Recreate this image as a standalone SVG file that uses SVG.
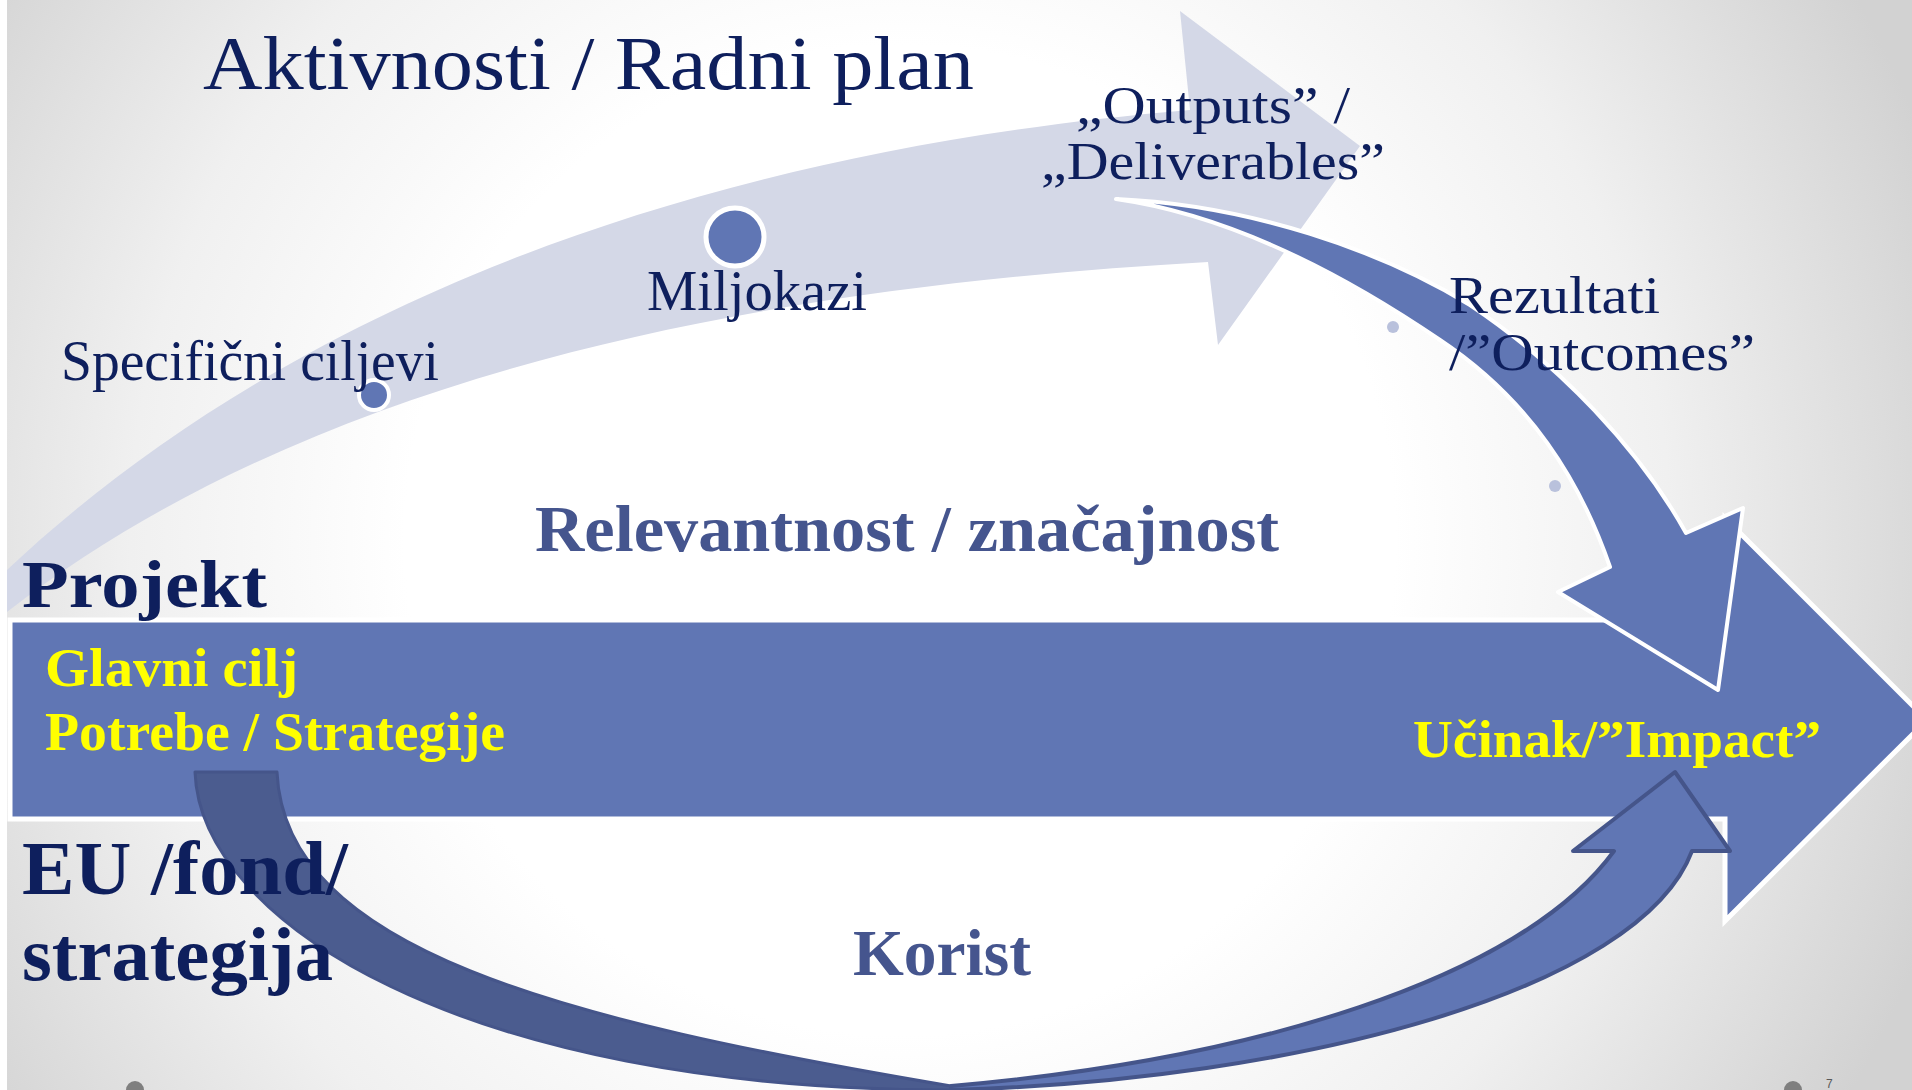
<svg xmlns="http://www.w3.org/2000/svg" width="1912" height="1090" viewBox="0 0 1912 1090">
<defs>
<radialGradient id="bg" gradientUnits="userSpaceOnUse" cx="900" cy="540" r="1100">
<stop offset="0" stop-color="#ffffff"/>
<stop offset="0.45" stop-color="#ffffff"/>
<stop offset="0.7" stop-color="#f0f0f0"/>
<stop offset="1" stop-color="#d2d2d2"/>
</radialGradient>
<style>
.t{font-family:"Liberation Serif","Times New Roman",serif;}
.navy{fill:#0e1f5d;}
.slate{fill:#45558e;font-weight:bold;}
.yel{fill:#ffff00;font-weight:bold;}
.b{font-weight:bold;}
.blue{fill:#6076b4;}
</style>
</defs>
<rect x="0" y="0" width="1912" height="1090" fill="url(#bg)"/>
<rect x="0" y="0" width="7" height="1090" fill="#ffffff"/>

<g id="connectors">
<path id="light-arrow" d="M7,570 C230,360 600,160 1190,110 L1180,11 L1360,146 L1218,345 L1208,262 C800,285 330,360 7,612 Z" fill="#d4d8e7"/>
<path id="main-arrow" d="M10,620 L1725,620 L1725,518 L1927,720 L1725,921 L1725,819 L10,819 Z" class="blue" stroke="#ffffff" stroke-width="5" stroke-linejoin="miter"/>
<path id="down-arrow" d="M1116,199 C1250,205 1380,250 1470,305 C1560,365 1640,450 1686,533 L1743,508 L1718,690 L1558,592 L1610,567 C1580,480 1530,400 1440,340 C1340,272 1230,215 1116,199 Z" class="blue" stroke="#ffffff" stroke-width="4" stroke-linejoin="round"/>
<path id="u-back" d="M195,772 L277,772 C285,950 560,1020 951,1086 L951,1090 C460,1090 200,920 195,772 Z" fill="#4b5c8f" stroke="#45558a" stroke-width="3" stroke-linejoin="round"/>
<path id="u-front" d="M951,1086 C1250,1060 1520,980 1614,851 L1573,851 L1675,772 L1730,851 L1692,851 C1640,990 1300,1080 951,1090 Z" class="blue" stroke="#45558a" stroke-width="4" stroke-linejoin="round"/>
</g>

<g id="dots">
<circle cx="374" cy="395" r="15" class="blue" stroke="#ffffff" stroke-width="4"/>
<circle cx="735" cy="237" r="29" class="blue" stroke="#ffffff" stroke-width="5"/>
<circle cx="1393" cy="327" r="6" fill="#b9c1dc"/>
<circle cx="1555" cy="486" r="6" fill="#b9c1dc"/>
<circle cx="135" cy="1090" r="9" fill="#7f7f7f"/>
<circle cx="1793" cy="1090" r="9" fill="#7f7f7f"/>
</g>

<g id="title"><text class="t navy" x="203" y="89" font-size="77" textLength="771" lengthAdjust="spacingAndGlyphs">Aktivnosti / Radni plan</text></g>
<g id="specificni"><text class="t navy" x="61" y="380" font-size="56" textLength="378" lengthAdjust="spacingAndGlyphs">Specifični ciljevi</text></g>
<g id="miljokazi"><text class="t navy" x="647" y="310" font-size="56" textLength="220" lengthAdjust="spacingAndGlyphs">Miljokazi</text></g>
<g id="outputs">
<text class="t navy" x="1076" y="123" font-size="53" textLength="274" lengthAdjust="spacingAndGlyphs">„Outputs” /</text>
<text class="t navy" x="1041" y="179" font-size="53" textLength="344" lengthAdjust="spacingAndGlyphs">„Deliverables”</text>
</g>
<g id="rezultati">
<text class="t navy" x="1449" y="313" font-size="53" textLength="211" lengthAdjust="spacingAndGlyphs">Rezultati</text>
<text class="t navy" x="1449" y="370" font-size="53" textLength="306" lengthAdjust="spacingAndGlyphs">/”Outcomes”</text>
</g>
<g id="relevantnost"><text class="t slate" x="535" y="551" font-size="66" textLength="744" lengthAdjust="spacingAndGlyphs">Relevantnost / značajnost</text></g>
<g id="projekt"><text class="t navy b" x="22" y="607" font-size="68" textLength="245" lengthAdjust="spacingAndGlyphs">Projekt</text></g>
<g id="glavni">
<text class="t yel" x="45" y="686" font-size="54" textLength="253" lengthAdjust="spacingAndGlyphs">Glavni cilj</text>
<text class="t yel" x="45" y="750" font-size="54" textLength="460" lengthAdjust="spacingAndGlyphs">Potrebe / Strategije</text>
</g>
<g id="eu">
<text class="t navy b" x="22" y="894" font-size="77" textLength="326" lengthAdjust="spacingAndGlyphs">EU /fond/</text>
<text class="t navy b" x="22" y="980" font-size="77" textLength="311" lengthAdjust="spacingAndGlyphs">strategija</text>
</g>
<g id="korist"><text class="t slate" x="853" y="975" font-size="66" textLength="178" lengthAdjust="spacingAndGlyphs">Korist</text></g>
<g id="ucinak"><text class="t yel" x="1413" y="757" font-size="53" textLength="408" lengthAdjust="spacingAndGlyphs">Učinak/”Impact”</text></g>
<g id="page"><text x="1826" y="1088" font-family="Liberation Sans, Arial, sans-serif" font-size="12" fill="#595959">7</text></g>
</svg>
